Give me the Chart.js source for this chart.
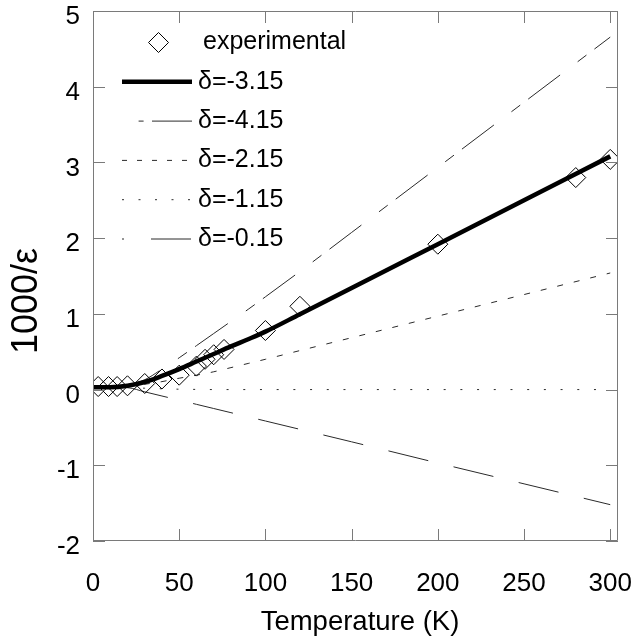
<!DOCTYPE html>
<html><head><meta charset="utf-8">
<script src="https://cdn.jsdelivr.net/npm/chart.js@4/dist/chart.umd.min.js"></script>
<style>html,body{margin:0;padding:0;background:#fff}#wrap{width:633px;height:640px}</style>
</head><body><div id="wrap"><canvas id="c" width="633" height="640"></canvas></div>
<script>
// ---- data ----
const xTicks = [0, 50, 100, 150, 200, 250, 300];
const yTicks = [-2, -1, 0, 1, 2, 3, 4, 5];
const expTemps  = [3, 9, 14, 20, 30, 40, 50, 60, 65, 70, 76, 100, 120, 200, 280, 300];
const expValues = [0.04, 0.04, 0.04, 0.05, 0.08, 0.14, 0.19, 0.31, 0.40, 0.46, 0.53, 0.78, 1.10, 1.92, 2.80, 3.04];
const modelTemps = [0, 10, 20, 30, 40, 50, 60, 70, 80, 90, 100, 120, 150, 200, 250, 300];
const delta315 = [0.03, 0.03, 0.05, 0.10, 0.18, 0.27, 0.37, 0.47, 0.57, 0.665, 0.765, 0.995, 1.34, 1.92, 2.50, 3.08];
const delta415 = [0.03, 0.035, 0.06, 0.13, 0.27, 0.42, 0.58, 0.74, 0.90, 1.06, 1.225, 1.56, 2.075, 2.935, 3.795, 4.655];
const delta215 = [0.03, 0.03, 0.04, 0.07, 0.105, 0.15, 0.19, 0.235, 0.29, 0.345, 0.40, 0.515, 0.685, 0.97, 1.255, 1.54];
const delta115 = [0.03, 0.03, 0.025, 0.018, 0.01, 0.005, 0.002, 0, 0, 0, 0, 0, 0, 0, 0, 0];
const delta015 = [0.03, 0.03, 0.025, -0.03, -0.085, -0.14, -0.195, -0.25, -0.305, -0.36, -0.415, -0.525, -0.69, -0.97, -1.245, -1.52];
const seriesLabels = ['experimental', 'δ=-3.15', 'δ=-4.15', 'δ=-2.15', 'δ=-1.15', 'δ=-0.15'];
const xTitle = 'Temperature (K)';
const yTitle = '1000/ε';

const FONT = "'Liberation Sans', Arial, Helvetica, sans-serif";
const AXIS_COLOR = '#7a7a7a';
const LINE_COLOR = '#2a2a2a';

const pts = (xs, ys) => xs.map((x, i) => ({x: x, y: ys[i]}));

// legend sample dash patterns (legend only)
const legendDash = [null, [], [0, 16.6, 5, 8.4, 40, 20], [5, 10], [2, 14.5], [2, 27, 40, 10]];
const legendWidth = [1, 4.5, 1, 1, 1, 1];

const framePlugin = {
  id: 'frameTicks',
  afterDatasetsDraw(chart) {
    const {ctx, chartArea: a, scales: {x, y}} = chart;
    ctx.save();
    ctx.strokeStyle = AXIS_COLOR;
    ctx.lineWidth = 1;
    ctx.beginPath();
    ctx.rect(a.left + 0.5, a.top + 0.5, a.right - a.left - 1, a.bottom - a.top - 1);
    const tl = 12;
    xTicks.forEach(v => {
      const px = Math.round(x.getPixelForValue(v)) + 0.5;
      ctx.moveTo(px, a.bottom); ctx.lineTo(px, a.bottom - tl);
      ctx.moveTo(px, a.top); ctx.lineTo(px, a.top + tl);
    });
    yTicks.forEach(v => {
      const py = Math.round(y.getPixelForValue(v)) + 0.5;
      ctx.moveTo(a.left, py); ctx.lineTo(a.left + tl, py);
      ctx.moveTo(a.right, py); ctx.lineTo(a.right - tl, py);
    });
    ctx.stroke();
    ctx.restore();
  },
  afterDraw(chart) {
    const {ctx} = chart;
    ctx.save();
    // axis titles
    ctx.fillStyle = '#000';
    ctx.textAlign = 'center';
    ctx.textBaseline = 'alphabetic';
    ctx.font = '27.5px ' + FONT;
    ctx.fillText(xTitle, 360, 629.5);
    ctx.save();
    ctx.translate(37, 301);
    ctx.rotate(-Math.PI / 2);
    ctx.font = '36px ' + FONT;
    ctx.fillText(yTitle, 0, 0);
    ctx.restore();

    // legend
    const x0 = 122, x1 = 192, top = 42.5, step = 39.3;
    ctx.textAlign = 'left';
    ctx.font = '25px ' + FONT;
    ctx.textBaseline = 'middle';
    seriesLabels.forEach((lab, i) => {
      const yy = top + i * step;
      if (i === 0) {
        const cx = 158.5, r = 10;
        ctx.beginPath();
        ctx.moveTo(cx, yy - r); ctx.lineTo(cx + r, yy); ctx.lineTo(cx, yy + r); ctx.lineTo(cx - r, yy); ctx.closePath();
        ctx.strokeStyle = '#000'; ctx.lineWidth = 1; ctx.setLineDash([]);
        ctx.stroke();
        ctx.fillText(lab, 203, yy);
      } else {
        ctx.beginPath();
        ctx.strokeStyle = i === 1 ? '#000' : LINE_COLOR;
        ctx.lineWidth = legendWidth[i];
        ctx.setLineDash(legendDash[i]);
        ctx.moveTo(x0, yy); ctx.lineTo(x1, yy);
        ctx.stroke();
        ctx.setLineDash([]);
        ctx.fillText(lab, 198, yy);
      }
    });
    ctx.restore();
  }
};

Chart.defaults.font.family = FONT;
Chart.defaults.color = '#000';

new Chart(document.getElementById('c'), {
  type: 'line',
  data: {
    datasets: [
      {label: seriesLabels[1], data: pts(modelTemps, delta315), borderColor: '#000', borderWidth: 4.5,
       pointRadius: 0, cubicInterpolationMode: 'monotone', fill: false},
      {label: seriesLabels[0], data: pts(expTemps, expValues), showLine: false, pointStyle: 'rectRot',
       pointRadius: 10, pointBorderColor: '#000', pointBackgroundColor: 'rgba(0,0,0,0)', pointBorderWidth: 1},
      {label: seriesLabels[2], data: pts(modelTemps, delta415), borderColor: LINE_COLOR, borderWidth: 1,
       borderDash: [40, 22, 11, 10], borderDashOffset: 53, pointRadius: 0, cubicInterpolationMode: 'monotone'},
      {label: seriesLabels[3], data: pts(modelTemps, delta215), borderColor: LINE_COLOR, borderWidth: 1,
       borderDash: [6, 11], pointRadius: 0, cubicInterpolationMode: 'monotone'},
      {label: seriesLabels[4], data: pts(modelTemps, delta115), borderColor: LINE_COLOR, borderWidth: 1,
       borderDash: [2, 14.7], pointRadius: 0, cubicInterpolationMode: 'monotone'},
      {label: seriesLabels[5], data: pts(modelTemps, delta015), borderColor: LINE_COLOR, borderWidth: 1,
       borderDash: [41, 26], borderDashOffset: 32, pointRadius: 0, cubicInterpolationMode: 'monotone'}
    ]
  },
  options: {
    responsive: false,
    animation: false,
    layout: {padding: {top: 6, right: 15, left: 0, bottom: 0}},
    plugins: {legend: {display: false}, tooltip: {enabled: false}},
    scales: {
      x: {
        type: 'linear', min: 0, max: 304.5,
        afterBuildTicks: s => { s.ticks = xTicks.map(v => ({value: v})); },
        afterFit: s => { s.height = 99; s.paddingLeft = 0; s.paddingRight = 0; },
        grid: {display: false, drawTicks: false},
        border: {display: false},
        ticks: {font: {size: 26}, padding: 27, maxRotation: 0, autoSkip: false, color: '#000'},
        title: {display: false, text: xTitle}
      },
      y: {
        type: 'linear', min: -2, max: 5,
        afterBuildTicks: s => { s.ticks = yTicks.map(v => ({value: v})); },
        afterFit: s => { s.width = 93; s.paddingTop = 0; s.paddingBottom = 0; },
        grid: {display: false, drawTicks: false},
        border: {display: false},
        ticks: {font: {size: 26}, padding: 13, labelOffset: 6, autoSkip: false, color: '#000'},
        title: {display: false, text: yTitle}
      }
    }
  },
  plugins: [framePlugin]
});
</script>
</body></html>
